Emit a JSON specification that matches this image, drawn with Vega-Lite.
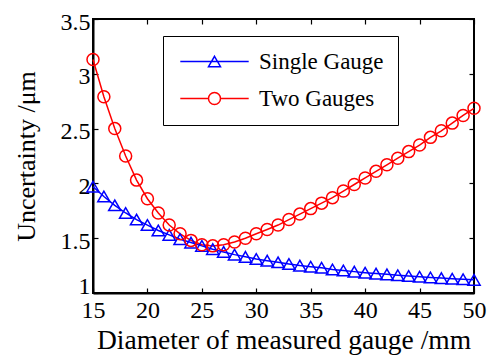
{
  "$schema": "https://vega.github.io/schema/vega-lite/v6.json",
  "autosize": "none",
  "width": 381,
  "height": 274,
  "padding": {"left": 93, "top": 19, "right": 23, "bottom": 63},
  "background": "white",
  "config": {
    "font": "Liberation Serif",
    "view": {"stroke": "black", "strokeWidth": 2},
    "axis": {
      "domainColor": "black", "domainWidth": 2, "tickColor": "black", "tickWidth": 1.2,
      "grid": false, "labelFont": "Liberation Serif", "labelFontSize": 24, "labelColor": "black",
      "titleFont": "Liberation Serif", "titleFontWeight": "normal", "titleColor": "black",
      "tickSize": -5
    },
    "legend": {"labelFont": "Liberation Serif"}
  },
  "data": {"values": [
    {"d":15,"u":1.97,"s":"Single Gauge"},{"d":16,"u":1.88,"s":"Single Gauge"},{"d":17,"u":1.80,"s":"Single Gauge"},{"d":18,"u":1.73,"s":"Single Gauge"},{"d":19,"u":1.67,"s":"Single Gauge"},{"d":20,"u":1.62,"s":"Single Gauge"},{"d":21,"u":1.57,"s":"Single Gauge"},{"d":22,"u":1.53,"s":"Single Gauge"},{"d":23,"u":1.49,"s":"Single Gauge"},{"d":24,"u":1.46,"s":"Single Gauge"},{"d":25,"u":1.43,"s":"Single Gauge"},{"d":26,"u":1.40,"s":"Single Gauge"},{"d":27,"u":1.375,"s":"Single Gauge"},{"d":28,"u":1.35,"s":"Single Gauge"},{"d":29,"u":1.33,"s":"Single Gauge"},{"d":30,"u":1.31,"s":"Single Gauge"},{"d":31,"u":1.295,"s":"Single Gauge"},{"d":32,"u":1.28,"s":"Single Gauge"},{"d":33,"u":1.265,"s":"Single Gauge"},{"d":34,"u":1.25,"s":"Single Gauge"},{"d":35,"u":1.24,"s":"Single Gauge"},{"d":36,"u":1.23,"s":"Single Gauge"},{"d":37,"u":1.215,"s":"Single Gauge"},{"d":38,"u":1.205,"s":"Single Gauge"},{"d":39,"u":1.195,"s":"Single Gauge"},{"d":40,"u":1.185,"s":"Single Gauge"},{"d":41,"u":1.177,"s":"Single Gauge"},{"d":42,"u":1.17,"s":"Single Gauge"},{"d":43,"u":1.162,"s":"Single Gauge"},{"d":44,"u":1.155,"s":"Single Gauge"},{"d":45,"u":1.148,"s":"Single Gauge"},{"d":46,"u":1.142,"s":"Single Gauge"},{"d":47,"u":1.136,"s":"Single Gauge"},{"d":48,"u":1.13,"s":"Single Gauge"},{"d":49,"u":1.125,"s":"Single Gauge"},{"d":50,"u":1.12,"s":"Single Gauge"},
    {"d":15,"u":3.13,"s":"Two Gauges"},{"d":16,"u":2.79,"s":"Two Gauges"},{"d":17,"u":2.50,"s":"Two Gauges"},{"d":18,"u":2.25,"s":"Two Gauges"},{"d":19,"u":2.03,"s":"Two Gauges"},{"d":20,"u":1.86,"s":"Two Gauges"},{"d":21,"u":1.73,"s":"Two Gauges"},{"d":22,"u":1.62,"s":"Two Gauges"},{"d":23,"u":1.54,"s":"Two Gauges"},{"d":24,"u":1.48,"s":"Two Gauges"},{"d":25,"u":1.44,"s":"Two Gauges"},{"d":26,"u":1.43,"s":"Two Gauges"},{"d":27,"u":1.44,"s":"Two Gauges"},{"d":28,"u":1.465,"s":"Two Gauges"},{"d":29,"u":1.50,"s":"Two Gauges"},{"d":30,"u":1.54,"s":"Two Gauges"},{"d":31,"u":1.58,"s":"Two Gauges"},{"d":32,"u":1.62,"s":"Two Gauges"},{"d":33,"u":1.67,"s":"Two Gauges"},{"d":34,"u":1.72,"s":"Two Gauges"},{"d":35,"u":1.77,"s":"Two Gauges"},{"d":36,"u":1.82,"s":"Two Gauges"},{"d":37,"u":1.87,"s":"Two Gauges"},{"d":38,"u":1.93,"s":"Two Gauges"},{"d":39,"u":1.99,"s":"Two Gauges"},{"d":40,"u":2.05,"s":"Two Gauges"},{"d":41,"u":2.11,"s":"Two Gauges"},{"d":42,"u":2.17,"s":"Two Gauges"},{"d":43,"u":2.23,"s":"Two Gauges"},{"d":44,"u":2.29,"s":"Two Gauges"},{"d":45,"u":2.35,"s":"Two Gauges"},{"d":46,"u":2.42,"s":"Two Gauges"},{"d":47,"u":2.48,"s":"Two Gauges"},{"d":48,"u":2.55,"s":"Two Gauges"},{"d":49,"u":2.62,"s":"Two Gauges"},{"d":50,"u":2.685,"s":"Two Gauges"}
  ]},
  "resolve": {"axis": {"x": "independent", "y": "independent"}},
  "layer": [
    {
      "mark": {"type": "line", "strokeWidth": 1.5},
      "encoding": {
        "x": {"field": "d", "type": "quantitative", "scale": {"domain": [15, 50], "nice": false, "zero": false},
              "axis": {"orient": "bottom", "values": [15,20,25,30,35,40,45,50], "title": "Diameter of measured gauge /mm", "titleFontSize": 27.5, "labelPadding": 10, "titlePadding": 4, "labelFlush": false}},
        "y": {"field": "u", "type": "quantitative", "scale": {"domain": [1, 3.5], "nice": false, "zero": false},
              "axis": {"orient": "left", "values": [1,1.5,2,2.5,3,3.5], "format": ".1~f", "title": "Uncertainty /μm", "titleFontSize": 26, "labelPadding": 8, "titlePadding": 21, "labelFlush": false,
                       "labelOffset": {"condition": {"test": "datum.value === 1", "value": -7}, "value": 3}}},
        "color": {"field": "s", "type": "nominal", "scale": {"domain": ["Single Gauge", "Two Gauges"], "range": ["#0000FF", "#FF0000"]}}
      }
    },
    {
      "transform": [{"filter": "datum.s === 'Single Gauge'"}],
      "mark": {"type": "point", "shape": "triangle-up", "filled": false, "strokeWidth": 1.5, "size": 150, "opacity": 1},
      "encoding": {
        "x": {"field": "d", "type": "quantitative", "axis": {"orient": "top", "values": [15,20,25,30,35,40,45,50], "labels": false, "title": null, "domain": false}},
        "y": {"field": "u", "type": "quantitative", "axis": {"orient": "right", "values": [1,1.5,2,2.5,3,3.5], "labels": false, "title": null, "domain": false}},
        "color": {"field": "s", "type": "nominal"}
      }
    },
    {
      "transform": [{"filter": "datum.s === 'Two Gauges'"}],
      "mark": {"type": "point", "shape": "circle", "filled": false, "strokeWidth": 1.5, "size": 144, "opacity": 1},
      "encoding": {
        "x": {"field": "d", "type": "quantitative", "axis": null},
        "y": {"field": "u", "type": "quantitative", "axis": null},
        "color": {"field": "s", "type": "nominal"}
      }
    },
    {
      "mark": {"type": "point", "filled": false, "strokeWidth": 1.5, "size": 144, "opacity": 0},
      "encoding": {
        "x": {"field": "d", "type": "quantitative", "axis": null},
        "y": {"field": "u", "type": "quantitative", "axis": null},
        "color": {"field": "s", "type": "nominal", "legend": {
          "orient": "none", "legendX": 70, "legendY": 17, "title": null,
          "strokeColor": "black", "fillColor": "white", "padding": 14,
          "labelFontSize": 23, "labelColor": "black", "symbolOpacity": 1,
          "symbolSize": 144, "symbolStrokeWidth": 1.5, "symbolOffset": 26, "labelOffset": 33, "rowPadding": 13}},
        "shape": {"field": "s", "type": "nominal",
          "scale": {"domain": ["Single Gauge", "Two Gauges"], "range": ["M-5.7,0H5.7M0,-0.866L1,0.866L-1,0.866Z", "M-5.7,0H-1M1,0H5.7M1,0A1,1 0 1,1 -1,0A1,1 0 1,1 1,0Z"]},
          "legend": {
          "orient": "none", "legendX": 70, "legendY": 17, "title": null,
          "strokeColor": "black", "fillColor": "white", "padding": 14,
          "labelFontSize": 23, "labelColor": "black", "symbolOpacity": 1,
          "symbolSize": 144, "symbolStrokeWidth": 1.5, "symbolOffset": 26, "labelOffset": 33, "rowPadding": 13}}
      }
    }
  ]
}
